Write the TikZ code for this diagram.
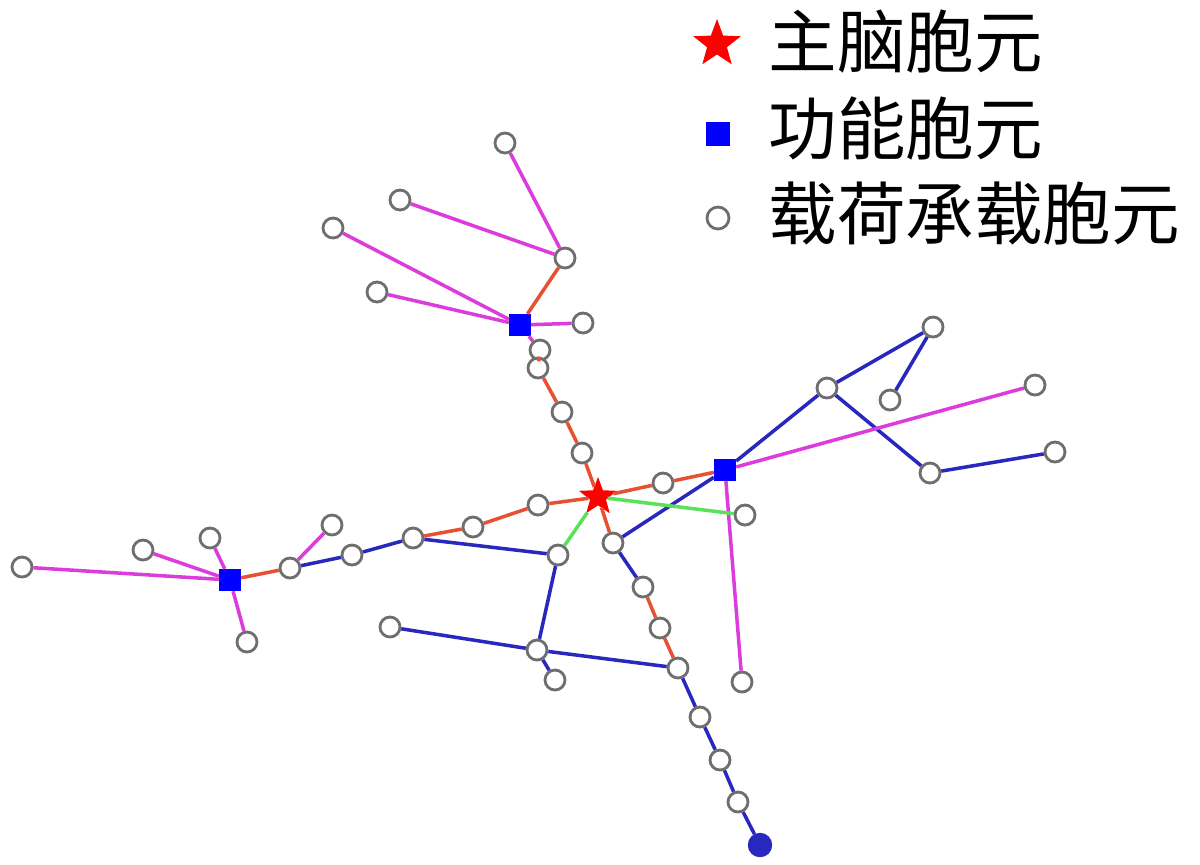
\documentclass[tikz,border=0pt]{standalone}
\usepackage{fontspec}
\newfontfamily\cjk{Noto Sans CJK SC}
\usepackage{tikz}
\usetikzlibrary{shapes.geometric}
\definecolor{linkmag}{RGB}{220,60,220}
\definecolor{linkblue}{RGB}{40,40,190}
\definecolor{linkred}{RGB}{232,80,50}
\definecolor{linkgreen}{RGB}{90,225,90}
\definecolor{cellgray}{RGB}{110,110,110}
\tikzset{%
	load/.style={draw=cellgray, circle, line width=0.8pt, minimum size=2mm, inner sep=0mm, fill=white},
	func/.style={draw=blue, rectangle, minimum size=2.1mm, inner sep=0mm, fill=blue},
	brain/.style={draw=red, star, star points=5, star point ratio=2.4, minimum size=3.6mm, inner sep=0mm, fill=red},
	tail/.style={draw=linkblue, circle, minimum size=2.3mm, inner sep=0mm, fill=linkblue},
	mag/.style={linkmag, line width=1pt},
	blu/.style={linkblue, line width=1pt},
	org/.style={linkred, line width=1pt},
	grn/.style={linkgreen, line width=1pt},
	legend/.style={anchor=west, inner sep=0mm, font=\cjk\fontsize{19.5}{22}\selectfont}
}
\begin{document}
\begin{tikzpicture}[x=0.1mm, y=-0.1mm]
	\useasboundingbox (0,0) rectangle (1200,864);

	% cells
	\node[brain] (S) at (598,497) {};
	\node[func] (F1) at (520,325) {};
	\node[func] (F2) at (725,470) {};
	\node[func] (F3) at (230,580) {};
	\node[tail] (E) at (760,845) {};

	% top branch
	\node[load] (a1) at (505,143) {};
	\node[load] (a2) at (400,200) {};
	\node[load] (a3) at (333,228) {};
	\node[load] (a4) at (377,292) {};
	\node[load] (a5) at (565,258) {};
	\node[load] (a6) at (583,323) {};
	\node[load] (u1) at (540,350) {};
	\node[load] (u2) at (538,368) {};
	\node[load] (u3) at (562,412) {};
	\node[load] (u4) at (582,453) {};

	% right branch
	\node[load] (r1) at (663,483) {};
	\node[load] (b1) at (827,388) {};
	\node[load] (b2) at (933,327) {};
	\node[load] (b3) at (890,400) {};
	\node[load] (b4) at (1035,385) {};
	\node[load] (b5) at (930,473) {};
	\node[load] (b6) at (1055,452) {};
	\node[load] (g1) at (745,515) {};
	\node[load] (m1) at (742,682) {};

	% left branch
	\node[load] (l1) at (538,505) {};
	\node[load] (l2) at (473,527) {};
	\node[load] (c1) at (22,567) {};
	\node[load] (c2) at (143,550) {};
	\node[load] (c3) at (210,538) {};
	\node[load] (c4) at (247,642) {};
	\node[load] (c5) at (332,525) {};
	\node[load] (c6) at (290,568) {};
	\node[load] (c7) at (352,555) {};
	\node[load] (c8) at (413,538) {};
	\node[load] (c9) at (390,627) {};

	% lower branch
	\node[load] (d1) at (558,555) {};
	\node[load] (d2) at (537,650) {};
	\node[load] (d3) at (555,680) {};
	\node[load] (n1) at (613,543) {};
	\node[load] (n2) at (643,587) {};
	\node[load] (n3) at (660,628) {};
	\node[load] (n4) at (678,668) {};
	\node[load] (n5) at (700,717) {};
	\node[load] (n6) at (720,760) {};
	\node[load] (n7) at (738,802) {};

	% links
	\draw[mag] (a1) -- (a5);
	\draw[mag] (a2) -- (a5);
	\draw[mag] (a3) -- (F1);
	\draw[mag] (a4) -- (F1);
	\draw[mag] (a6) -- (F1);
	\draw[org] (a5) -- (F1);
	\draw[mag] (F1) -- (u1);
	\draw[org] (u1) -- (u2);
	\draw[org] (u2) -- (u3);
	\draw[org] (u3) -- (u4);
	\draw[org] (u4) -- (S);

	\draw[org] (S) -- (r1);
	\draw[org] (r1) -- (F2);
	\draw[blu] (F2) -- (b1);
	\draw[blu] (b1) -- (b2);
	\draw[blu] (b2) -- (b3);
	\draw[blu] (b1) -- (b5);
	\draw[blu] (b5) -- (b6);
	\draw[mag] (F2) -- (b4);
	\draw[mag] (F2) -- (m1);
	\draw[blu] (F2) -- (n1);
	\draw[grn] (S) -- (g1);

	\draw[org] (S) -- (l1);
	\draw[org] (l1) -- (l2);
	\draw[org] (l2) -- (c8);
	\draw[blu] (c8) -- (c7);
	\draw[blu] (c7) -- (c6);
	\draw[org] (c6) -- (F3);
	\draw[mag] (c6) -- (c5);
	\draw[mag] (F3) -- (c1);
	\draw[mag] (F3) -- (c2);
	\draw[mag] (F3) -- (c3);
	\draw[mag] (F3) -- (c4);

	\draw[blu] (c8) -- (d1);
	\draw[grn] (S) -- (d1);
	\draw[blu] (d1) -- (d2);
	\draw[blu] (d2) -- (c9);
	\draw[blu] (d2) -- (d3);
	\draw[blu] (d2) -- (n4);

	\draw[org] (S) -- (n1);
	\draw[blu] (n1) -- (n2);
	\draw[org] (n2) -- (n3);
	\draw[org] (n3) -- (n4);
	\draw[blu] (n4) -- (n5);
	\draw[blu] (n5) -- (n6);
	\draw[blu] (n6) -- (n7);
	\draw[blu] (n7) -- (E);

	% legend
	\node[brain, minimum size=4.6mm] (keyS) at (717,44) {};
	\node[func, minimum size=2.2mm] (keyF) at (718,134) {};
	\node[load, minimum size=2.2mm] (keyL) at (718,218) {};
	\node[legend] (txtS) at (768,42) {主脑胞元};
	\node[legend] (txtF) at (768,128) {功能胞元};
	\node[legend] (txtL) at (768,214) {载荷承载胞元};
\end{tikzpicture}
\end{document}
